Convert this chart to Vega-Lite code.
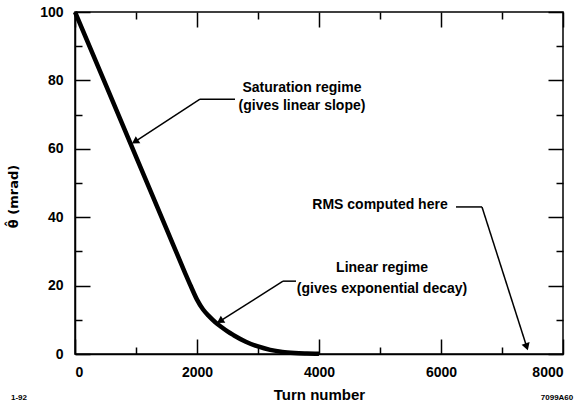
{
  "$schema": "https://vega.github.io/schema/vega-lite/v6.json",
  "width": 488,
  "height": 342,
  "autosize": {"type": "none"},
  "padding": {"left": 75, "top": 12, "right": 16, "bottom": 53},
  "background": "white",
  "config": {
    "view": {"stroke": "black", "strokeWidth": 1.5},
    "font": "Liberation Sans",
    "axis": {
      "domainColor": "black", "domainWidth": 1.5,
      "tickColor": "black", "tickWidth": 1.5,
      "labelFont": "Liberation Sans", "labelFontWeight": "bold", "labelFontSize": 14, "labelColor": "black",
      "titleFont": "Liberation Sans", "titleFontWeight": "bold", "titleFontSize": 15, "titleColor": "black",
      "grid": false
    }
  },
  "datasets": {
    "curve": [
      {"turn": 0, "val": 100},
      {"turn": 500, "val": 78.9},
      {"turn": 1000, "val": 57.7},
      {"turn": 1500, "val": 36.6},
      {"turn": 1800, "val": 23.9},
      {"turn": 1900, "val": 19.8},
      {"turn": 2000, "val": 15.9},
      {"turn": 2100, "val": 13.0},
      {"turn": 2200, "val": 11.0},
      {"turn": 2300, "val": 9.3},
      {"turn": 2400, "val": 7.9},
      {"turn": 2500, "val": 6.6},
      {"turn": 2600, "val": 5.5},
      {"turn": 2800, "val": 3.6},
      {"turn": 3000, "val": 2.2},
      {"turn": 3200, "val": 1.2},
      {"turn": 3400, "val": 0.6},
      {"turn": 3600, "val": 0.3},
      {"turn": 3800, "val": 0.15},
      {"turn": 4000, "val": 0.05}
    ],
    "arrows": [
      {"lx": 2623, "cx": 2049, "cy": 74.5, "tx": 984, "ty": 62.1},
      {"lx": 3623, "cx": 3410, "cy": 21.3, "tx": 2377, "ty": 9.6},
      {"lx": 6246, "cx": 6672, "cy": 43.0, "tx": 7405, "ty": 2.1}
    ],
    "notes": [
      {"nx": 3721, "ny": 77.8, "label": "Saturation regime"},
      {"nx": 3721, "ny": 72.4, "label": "(gives linear slope)"},
      {"nx": 5033, "ny": 25.1, "label": "Linear regime"},
      {"nx": 5033, "ny": 19.0, "label": "(gives exponential decay)"},
      {"nx": 5000, "ny": 43.6, "label": "RMS computed here"}
    ],
    "corners": [
      {"nx": -918, "ny": -12.9, "label": "1-92"},
      {"nx": 7902, "ny": -12.9, "label": "7099A60"}
    ]
  },
  "layer": [
    {
      "data": {"name": "curve"},
      "mark": {"type": "line", "color": "black", "strokeWidth": 4.5, "interpolate": "monotone"},
      "encoding": {
        "x": {
          "field": "turn", "type": "quantitative",
          "scale": {"domain": [0, 8000], "nice": false, "zero": false},
          "axis": {
            "orient": "bottom", "title": "Turn number", "titlePadding": 8,
            "values": [0, 1000, 2000, 3000, 4000, 5000, 6000, 7000, 8000],
            "format": "d",
            "labelExpr": "datum.value % 2000 === 0 ? datum.label : ''",
            "tickSize": {"condition": {"test": "datum.value % 2000 === 0", "value": -15}, "value": -7},
            "labelPadding": 26
          }
        },
        "y": {
          "field": "val", "type": "quantitative",
          "scale": {"domain": [0, 100], "nice": false},
          "axis": {
            "orient": "left", "title": "θ̂  (mrad)",
            "titleFont": "DejaVu Sans", "titleFontSize": 13,
            "values": [0, 10, 20, 30, 40, 50, 60, 70, 80, 90, 100],
            "labelExpr": "datum.value % 20 === 0 ? datum.label : ''",
            "tickSize": {"condition": {"test": "datum.value % 20 === 0", "value": -15}, "value": -7},
            "labelPadding": 27,
            "titleX": -55, "titleY": 184
          }
        }
      }
    },
    {
      "data": {"name": "curve"},
      "mark": {"type": "line", "opacity": 0},
      "encoding": {
        "x": {
          "field": "turn", "type": "quantitative",
          "axis": {
            "orient": "top", "title": null, "labels": false, "domain": false,
            "values": [0, 1000, 2000, 3000, 4000, 5000, 6000, 7000, 8000],
            "tickSize": {"condition": {"test": "datum.value % 2000 === 0", "value": -15}, "value": -7}
          }
        },
        "y": {
          "field": "val", "type": "quantitative",
          "axis": {
            "orient": "right", "title": null, "labels": false, "domain": false,
            "values": [0, 10, 20, 30, 40, 50, 60, 70, 80, 90, 100],
            "tickSize": {"condition": {"test": "datum.value % 20 === 0", "value": -15}, "value": -7}
          }
        }
      }
    },
    {
      "data": {"name": "arrows"},
      "layer": [
        {
          "mark": {"type": "rule", "color": "black", "strokeWidth": 1.5},
          "encoding": {
            "x": {"field": "lx", "type": "quantitative", "axis": null},
            "x2": {"field": "cx"},
            "y": {"field": "cy", "type": "quantitative", "axis": null},
            "y2": {"field": "cy"}
          }
        },
        {
          "mark": {"type": "rule", "color": "black", "strokeWidth": 1.5},
          "encoding": {
            "x": {"field": "cx", "type": "quantitative", "axis": null},
            "x2": {"field": "tx"},
            "y": {"field": "cy", "type": "quantitative", "axis": null},
            "y2": {"field": "ty"}
          }
        },
        {
          "transform": [
            {"calculate": "atan2((datum.tx - datum.cx) * 0.061, (datum.ty - datum.cy) * 3.42) * 180 / PI", "as": "ang"}
          ],
          "mark": {"type": "point", "shape": "triangle-up", "filled": true, "color": "black", "opacity": 1, "size": 70},
          "encoding": {
            "x": {"field": "tx", "type": "quantitative", "axis": null},
            "y": {"field": "ty", "type": "quantitative", "axis": null},
            "angle": {"field": "ang", "type": "quantitative", "scale": null}
          }
        }
      ]
    },
    {
      "data": {"name": "notes"},
      "mark": {"type": "text", "fontSize": 14, "fontWeight": "bold", "color": "black", "baseline": "middle", "align": "center"},
      "encoding": {
        "x": {"field": "nx", "type": "quantitative", "axis": null},
        "y": {"field": "ny", "type": "quantitative", "axis": null},
        "text": {"field": "label"}
      }
    },
    {
      "data": {"name": "corners"},
      "mark": {"type": "text", "fontSize": 8, "fontWeight": "bold", "color": "black", "baseline": "middle", "align": "center"},
      "encoding": {
        "x": {"field": "nx", "type": "quantitative", "axis": null},
        "y": {"field": "ny", "type": "quantitative", "axis": null},
        "text": {"field": "label"}
      }
    }
  ],
  "resolve": {"axis": {"x": "independent", "y": "independent"}}
}
